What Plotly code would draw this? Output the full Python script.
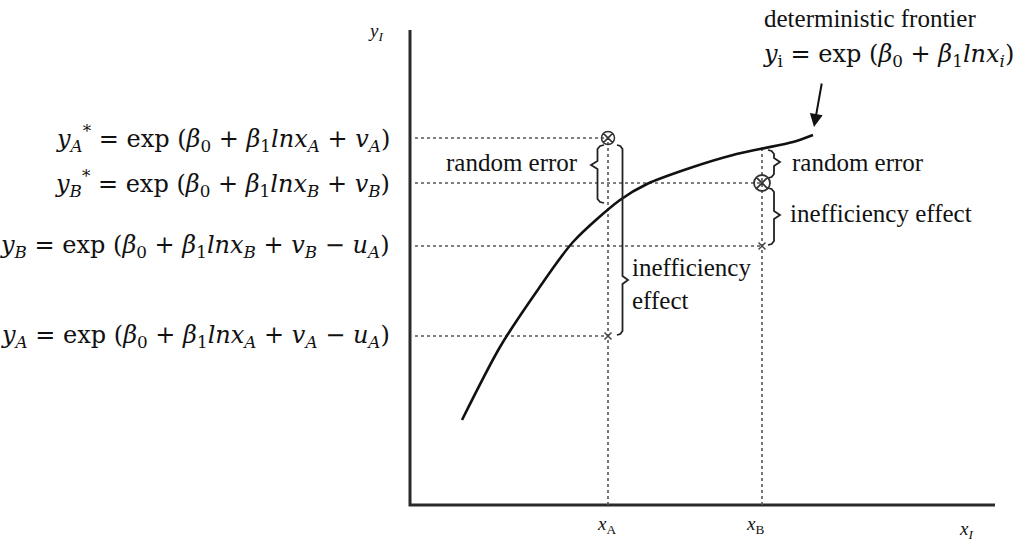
import plotly.graph_objects as go

# Input levels of the two producers
x_A = 198
x_B = 352

# Deterministic frontier read along the input axis
frontier_x = [52, 90, 127, 163, 210, 237, 283, 323, 350, 383, 403]
frontier_y = [85, 158, 214, 263, 305, 321, 338, 350, 356, 363, 370]

# Output levels: stochastic frontier outputs (*) and observed outputs
y_A_star = 367
y_B_star = 322
y_B = 259
y_A = 169

# Axis extents
x_axis_end = 585
y_axis_end = 475

TEXT_FONT = "Liberation Serif, Times New Roman, serif"
EQ_FONT = "DejaVu Serif, serif"
INK = "#111111"
DOT = "#555555"

fig = go.Figure()

# Axes
fig.add_trace(go.Scatter(x=[0, 0, x_axis_end], y=[y_axis_end, 0, 0], mode="lines",
                         line=dict(color="#2a2a2a", width=3), hoverinfo="skip"))

# Dotted guide lines
def dotted(xs, ys):
    fig.add_trace(go.Scatter(x=xs, y=ys, mode="lines",
                             line=dict(color=DOT, width=1.6, dash="dot"), hoverinfo="skip"))

dotted([5, x_A], [y_A_star, y_A_star])
dotted([5, x_B], [y_B_star, y_B_star])
dotted([5, x_B], [y_B, y_B])
dotted([5, x_A], [y_A, y_A])
dotted([x_A, x_A], [0, y_A_star])
dotted([x_B, x_B], [0, 357])

# Frontier curve
fig.add_trace(go.Scatter(x=frontier_x, y=frontier_y, mode="lines",
                         line=dict(color=INK, width=2.6, shape="spline", smoothing=0.8),
                         hoverinfo="skip"))

# Braces
def brace(x0, ylo, yhi, ytip, width, facing):
    s = 1 if facing == "right" else -1
    h = width * 0.5
    c = 4
    xs = [x0, x0 + s * h * 0.6, x0 + s * h, x0 + s * h, x0 + s * width,
          x0 + s * h, x0 + s * h, x0 + s * h * 0.6, x0]
    ys = [yhi, yhi - 1, yhi - c, ytip + c, ytip, ytip - c, ylo + c, ylo + 1, ylo]
    fig.add_trace(go.Scatter(x=xs, y=ys, mode="lines",
                             line=dict(color="#222222", width=1.8), hoverinfo="skip"))

brace(194, 302, 360, 340, 13, "left")
brace(207, 170, 360, 225, 11, "right")
brace(358, 327, 355, 343, 12, "right")
brace(358, 260, 317, 290, 12, "right")

# Point markers
fig.add_trace(go.Scatter(x=[x_A], y=[y_A_star], mode="markers",
                         marker=dict(symbol="circle-x-open", size=13, color="#333333",
                                     line=dict(width=1.5)), hoverinfo="skip"))
fig.add_trace(go.Scatter(x=[x_B], y=[y_B_star], mode="markers",
                         marker=dict(symbol="circle-x-open", size=16, color="#333333",
                                     line=dict(width=1.8)), hoverinfo="skip"))
fig.add_trace(go.Scatter(x=[x_A, x_B], y=[y_A, y_B], mode="markers",
                         marker=dict(symbol="x-thin", size=7, color="#333333",
                                     line=dict(width=1.5)), hoverinfo="skip"))

annotations = []

def text(x, y, t, size=25, family=TEXT_FONT, xanchor="center", yanchor="middle", align="left"):
    annotations.append(dict(x=x, y=y, text=t, showarrow=False, xanchor=xanchor,
                            yanchor=yanchor, align=align,
                            font=dict(family=family, size=size, color=INK)))

# Equation labels on the output axis
eq_x = -18
eq_size = 24
text(eq_x, y_A_star,
     "<i>y<sub>A</sub></i><sup>*</sup> = exp (<i>β</i><sub>0</sub> + <i>β</i><sub>1</sub><i>lnx<sub>A</sub></i> + <i>v<sub>A</sub></i>)",
     size=eq_size, family=EQ_FONT, xanchor="right")
text(eq_x, y_B_star,
     "<i>y<sub>B</sub></i><sup>*</sup> = exp (<i>β</i><sub>0</sub> + <i>β</i><sub>1</sub><i>lnx<sub>B</sub></i> + <i>v<sub>B</sub></i>)",
     size=eq_size, family=EQ_FONT, xanchor="right")
text(eq_x, y_B,
     "<i>y<sub>B</sub></i> = exp (<i>β</i><sub>0</sub> + <i>β</i><sub>1</sub><i>lnx<sub>B</sub></i> + <i>v<sub>B</sub></i> − <i>u<sub>A</sub></i>)",
     size=eq_size, family=EQ_FONT, xanchor="right")
text(eq_x, y_A,
     "<i>y<sub>A</sub></i> = exp (<i>β</i><sub>0</sub> + <i>β</i><sub>1</sub><i>lnx<sub>A</sub></i> + <i>v<sub>A</sub></i> − <i>u<sub>A</sub></i>)",
     size=eq_size, family=EQ_FONT, xanchor="right")

# Component labels
text(170, 343, "random error", xanchor="right")
text(380, 343, "random error", xanchor="left")
text(378, 292, "inefficiency effect", xanchor="left")
text(220, 221, "inefficiency<br>effect", xanchor="left")

# Frontier caption and arrow
text(460, 487, "deterministic frontier")
text(478, 450,
     "<i>y</i><sub>i</sub> = exp (<i>β</i><sub>0</sub> + <i>β</i><sub>1</sub><i>lnx<sub>i</sub></i>)",
     size=eq_size, family=EQ_FONT)
annotations.append(dict(x=404, y=378, ax=412, ay=423, xref="x", yref="y", axref="x", ayref="y",
                        showarrow=True, arrowhead=2, arrowsize=1.3, arrowwidth=2,
                        arrowcolor=INK, text=""))

# Axis labels
text(-35, 473, "<i>y<sub>I</sub></i>", size=19)
text(x_A - 2, -20, "<i>x</i><sub>A</sub>", size=19)
text(x_B - 7, -20, "<i>x</i><sub>B</sub>", size=19)
text(556, -25, "<i>x<sub>I</sub></i>", size=19)

fig.update_layout(
    width=1026, height=544,
    margin=dict(l=0, r=0, t=0, b=0),
    paper_bgcolor="white", plot_bgcolor="white",
    showlegend=False,
    annotations=annotations,
    xaxis=dict(range=[-410, 616], visible=False, fixedrange=True),
    yaxis=dict(range=[-39, 505], visible=False, fixedrange=True),
)

fig.write_html("out.html")
